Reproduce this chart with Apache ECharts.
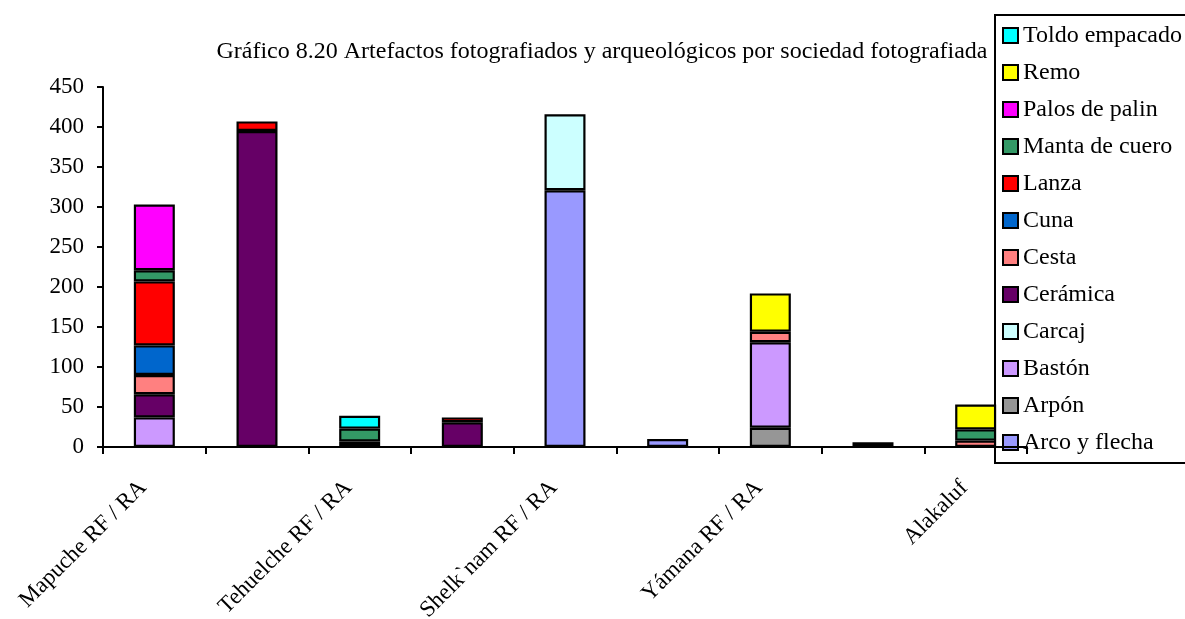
<!DOCTYPE html>
<html>
<head>
<meta charset="utf-8">
<script src="https://cdn.jsdelivr.net/npm/echarts@6/dist/echarts.min.js"></script>
<style>
  html, body { margin: 0; padding: 0; background: #fff; }
  #chart { width: 1185px; height: 619px; }
</style>
</head>
<body>
<div id="chart"></div>
<script>
// Categories: photographed (RF) and archaeological (RA) record for each society
const categories = ["Mapuche RF / RA", "", "Tehuelche RF / RA", "", "Shelk`nam RF / RA", "", "Yámana RF / RA", "", "Alakaluf"];

// Artefact counts per category, stacked bottom to top
const otros          = [null, null, 7, null, null, null, null, 6, null];
const arcoYFlecha    = [null, null, null, null, 321, 10, null, null, null];
const arpon          = [null, null, null, null, null, null, 24, null, null];
const baston         = [37, null, null, null, null, null, 107, null, null];
const carcaj         = [null, null, null, null, 95, null, null, null, null];
const ceramica       = [29, 395, null, 31, null, null, null, null, null];
const cesta          = [24, null, null, null, null, null, 13, null, 8];
const cuna           = [37, null, null, null, null, null, null, null, null];
const lanza          = [80, 12, null, 6, null, null, null, null, null];
const mantaDeCuero   = [14, null, 16, null, null, null, null, null, 14];
const palosDePalin   = [82, null, null, null, null, null, null, null, null];
const remo           = [null, null, null, null, null, null, 48, null, 31];
const toldoEmpacado  = [null, null, 16, null, null, null, null, null, null];

const yTicks = { min: 0, max: 450, interval: 50 };

const stackSeries = [
  { name: "Otros",          data: otros,         color: "#000000", legend: false },
  { name: "Arco y flecha",  data: arcoYFlecha,   color: "#9999FF", legend: true },
  { name: "Arpón",          data: arpon,         color: "#969696", legend: true },
  { name: "Bastón",         data: baston,        color: "#CC99FF", legend: true },
  { name: "Carcaj",         data: carcaj,        color: "#CCFFFF", legend: true },
  { name: "Cerámica",       data: ceramica,      color: "#660066", legend: true },
  { name: "Cesta",          data: cesta,         color: "#FF8080", legend: true },
  { name: "Cuna",           data: cuna,          color: "#0066CC", legend: true },
  { name: "Lanza",          data: lanza,         color: "#FF0000", legend: true },
  { name: "Manta de cuero", data: mantaDeCuero,  color: "#339966", legend: true },
  { name: "Palos de palin", data: palosDePalin,  color: "#FF00FF", legend: true },
  { name: "Remo",           data: remo,          color: "#FFFF00", legend: true },
  { name: "Toldo empacado", data: toldoEmpacado, color: "#00FFFF", legend: true }
];

const FONT = "Liberation Serif";

const chart = echarts.init(document.getElementById("chart"), null, { renderer: "canvas" });

chart.setOption({
  backgroundColor: "#ffffff",
  animation: false,
  title: {
    text: "Gráfico 8.20 Artefactos fotografiados y arqueológicos por sociedad fotografiada",
    left: 597,
    top: 35,
    textAlign: "center",
    textStyle: { fontFamily: FONT, fontSize: 24, fontWeight: "normal", color: "#000" }
  },
  legend: {
    orient: "vertical",
    left: 995,
    top: 15,
    z: 1,
    padding: [7, 40, 7, 7],
    backgroundColor: "#ffffff",
    borderColor: "#000000",
    borderWidth: 2,
    borderRadius: 0,
    icon: "rect",
    itemWidth: 15,
    itemHeight: 15,
    itemGap: 10,
    itemStyle: { borderColor: "#000", borderWidth: 2 },
    textStyle: { fontFamily: FONT, fontSize: 24, lineHeight: 27, color: "#000" },
    data: stackSeries.filter(s => s.legend).map(s => s.name).reverse()
  },
  grid: { left: 103, right: 158, top: 87, bottom: 172, containLabel: false, outerBoundsMode: "none" },
  xAxis: {
    type: "category",
    data: categories,
    z: 10,
    boundaryGap: true,
    axisLine: { show: true, lineStyle: { color: "#000", width: 2 } },
    axisTick: { show: true, alignWithLabel: false, interval: 0, length: 7, lineStyle: { color: "#000", width: 2 } },
    axisLabel: {
      interval: 0,
      rotate: 45,
      margin: 26,
      padding: [0, 16, 0, 0],
      fontFamily: FONT,
      fontSize: 23,
      color: "#000"
    },
    splitLine: { show: false }
  },
  yAxis: {
    type: "value",
    min: yTicks.min,
    max: yTicks.max,
    interval: yTicks.interval,
    axisLine: { show: true, lineStyle: { color: "#000", width: 2 } },
    axisTick: { show: true, inside: false, length: 6, lineStyle: { color: "#000", width: 2 } },
    axisLabel: { margin: 19, fontFamily: FONT, fontSize: 23, color: "#000" },
    splitLine: { show: false }
  },
  series: stackSeries.map(s => ({
    name: s.name,
    type: "bar",
    stack: "total",
    data: s.data,
    barWidth: 41,
    itemStyle: { color: s.color, borderColor: "#000", borderWidth: 2.2 },
    emphasis: { disabled: true }
  }))
});
</script>
</body>
</html>
